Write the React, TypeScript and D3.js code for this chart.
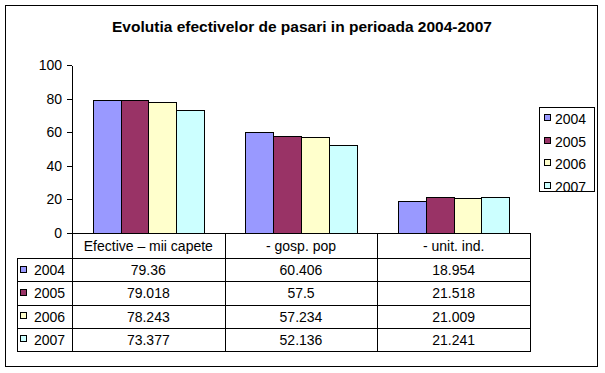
import * as d3 from 'd3'

const categories = ['Efective – mii capete', '- gosp. pop', '- unit. ind.']
const years = ['2004', '2005', '2006', '2007']
const yearColors = ['#9999FF', '#993366', '#FFFFCC', '#CCFFFF']
const values2004 = [79.36, 60.406, 18.954]
const values2005 = [79.018, 57.5, 21.518]
const values2006 = [78.243, 57.234, 21.009]
const values2007 = [73.377, 52.136, 21.241]
const valueLabels = [
  ['79.36', '60.406', '18.954'],
  ['79.018', '57.5', '21.518'],
  ['78.243', '57.234', '21.009'],
  ['73.377', '52.136', '21.241'],
]
const yTicks = [0, 20, 40, 60, 80, 100]
const title = 'Evolutia efectivelor de pasari in perioada 2004-2007'

const series = [values2004, values2005, values2006, values2007]

const W = 605
const H = 373
const FONT = "'Liberation Sans', Arial, sans-serif"
const FS = 14

export default function App() {
  const left = 72
  const right = 530
  const top = 65
  const base = 233
  const tableLeft = 17
  const tableBottom = 351

  const x0 = d3.scaleBand<string>().domain(categories).range([left, right]).padding(0)
  const x1 = d3
    .scaleBand<string>()
    .domain(years)
    .range([0, x0.bandwidth()])
    .paddingInner(0)
    .paddingOuter(0.75)
  const y = d3.scaleLinear().domain([0, 100]).range([base, top])
  const color = d3.scaleOrdinal<string, string>().domain(years).range(yearColors)
  const rows = d3.scaleBand<string>().domain(years).range([258, tableBottom])
  const legendY = d3.scalePoint<string>().domain(years).range([118, 185.5])

  const px = (v: number) => Math.round(v) + 0.5

  return (
    <svg
      width={W}
      height={H}
      style={{ position: 'absolute', left: 0, top: 0, background: '#fff' }}
      fontFamily={FONT}
    >
      <rect x={5.5} y={5.5} width={592} height={361} fill="#fff" stroke="#000" shapeRendering="crispEdges" />
      <text x={302} y={32} textAnchor="middle" fontSize={15.5} fontWeight="bold">
        {title}
      </text>

      {/* bars */}
      {series.map((vals, si) =>
        vals.map((v, ci) => {
          const xs = x0(categories[ci])! + x1(years[si])!
          return (
            <rect
              key={`${si}-${ci}`}
              x={px(xs)}
              y={px(y(v))}
              width={Math.round(xs + x1.bandwidth()) - Math.round(xs)}
              height={Math.round(base) - Math.round(y(v))}
              fill={color(years[si])}
              stroke="#000"
              shapeRendering="crispEdges"
            />
          )
        })
      )}

      {/* y axis */}
      <g shapeRendering="crispEdges" stroke="#000">
        <line x1={px(left)} x2={px(left)} y1={px(top)} y2={tableBottom + 0.5} />
        {yTicks.map((t) => (
          <line key={t} x1={left - 5} x2={left} y1={px(y(t))} y2={px(y(t))} />
        ))}
      </g>
      {yTicks.map((t) => (
        <text key={t} x={62} y={y(t)} dy="0.36em" textAnchor="end" fontSize={FS}>
          {t}
        </text>
      ))}

      {/* data table */}
      <g shapeRendering="crispEdges" stroke="#000">
        <line x1={left} x2={right + 1} y1={px(base)} y2={px(base)} />
        {categories.map((c) => (
          <line key={c} x1={px(x0(c)! + x0.bandwidth())} x2={px(x0(c)! + x0.bandwidth())} y1={px(base)} y2={tableBottom + 0.5} />
        ))}
        {years.map((yr) => (
          <line key={yr} x1={tableLeft} x2={right + 1} y1={px(rows(yr)!)} y2={px(rows(yr)!)} />
        ))}
        <line x1={tableLeft} x2={right + 1} y1={px(tableBottom)} y2={px(tableBottom)} />
        <line x1={px(tableLeft)} x2={px(tableLeft)} y1={px(rows(years[0])!)} y2={tableBottom + 0.5} />
      </g>
      {categories.map((c) => (
        <text key={c} x={x0(c)! + x0.bandwidth() / 2} y={(base + rows(years[0])!) / 2 + 0.5} dy="0.36em" textAnchor="middle" fontSize={FS}>
          {c}
        </text>
      ))}
      {years.map((yr, si) => {
        const cy = rows(yr)! + rows.bandwidth() / 2
        return (
          <g key={yr}>
            <rect x={20.5} y={Math.round(cy) - 3.5} width={6} height={6} fill={color(yr)} stroke="#000" shapeRendering="crispEdges" />
            <text x={34} y={cy + 0.5} dy="0.36em" fontSize={FS}>
              {yr}
            </text>
            {categories.map((c, ci) => (
              <text key={c} x={x0(c)! + x0.bandwidth() / 2} y={cy + 0.5} dy="0.36em" textAnchor="middle" fontSize={FS}>
                {valueLabels[si][ci]}
              </text>
            ))}
          </g>
        )
      })}

      {/* legend */}
      <rect x={539.5} y={107.5} width={55} height={84} fill="#fff" stroke="#000" shapeRendering="crispEdges" />
      {years.map((yr) => {
        const cy = legendY(yr)!
        return (
          <g key={yr}>
            <rect x={544.5} y={Math.round(cy) - 3.5} width={6} height={6} fill={color(yr)} stroke="#000" shapeRendering="crispEdges" />
            <text x={555} y={cy + 1} dy="0.36em" fontSize={14}>
              {yr}
            </text>
          </g>
        )
      })}
    </svg>
  )
}
